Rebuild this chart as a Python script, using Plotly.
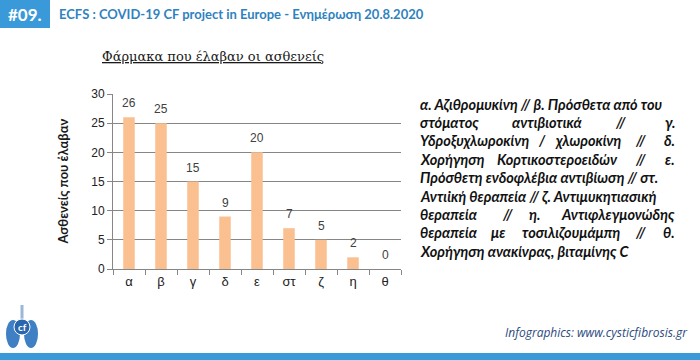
import plotly.graph_objects as go

categories = ["α", "β", "γ", "δ", "ε", "στ", "ζ", "η", "θ"]
patients = [26, 25, 15, 9, 20, 7, 5, 2, 0]
y_ticks = [0, 5, 10, 15, 20, 25, 30]

chart_title = "<u>Φάρμακα που έλαβαν οι ασθενείς</u>"
y_title = "<b>Ασθενείς που έλαβαν</b>"
header_tag = "#09."
header_title = "ECFS : COVID-19 CF project in Europe - Ενημέρωση 20.8.2020"
footer_text = "Infographics: www.cysticfibrosis.gr"

# legend text, line by line (justified block in the original)
legend_lines = [
    "α. Αζιθρομυκίνη // β. Πρόσθετα από του",
    "στόματος αντιβιοτικά // γ.",
    "Υδροξυχλωροκίνη / χλωροκίνη // δ.",
    "Χορήγηση Κορτικοστεροειδών // ε.",
    "Πρόσθετη ενδοφλέβια αντιβίωση // στ.",
    "Αντιϊκή θεραπεία // ζ. Αντιμυκητιασική",
    "θεραπεία // η. Αντιφλεγμονώδης",
    "θεραπεία με τοσιλιζουμάμπη // θ.",
    "Χορήγηση ανακίνρας, βιταμίνης C",
]

# layout: word extents (pixels) for the widely justified lines; None = one text run
word_extents = [
    None,
    [(418, 475), (510, 583), (613, 628), (663, 677)],
    [(418, 528), (538, 545), (553, 622), (632, 648), (660, 677)],
    [(418, 478), (495, 620), (632, 648), (663, 677)],
    None,
    None,
    [(418, 480), (498, 517), (527, 542), (560, 677)],
    [(418, 480), (490, 507), (518, 623), (632, 648), (662, 677)],
    None,
]

W, H = 700, 360
L, R, T, B = 113, 401, 94, 269


def px(x):
    return (x - L) / (R - L)


def py(y):
    return (B - y) / (B - T)


fig = go.Figure()
fig.add_trace(go.Bar(
    x=categories, y=patients, width=0.36,
    marker=dict(color="#fac090", line=dict(width=0)),
    hoverinfo="x+y",
))

annotations = []
for c, v in zip(categories, patients):
    annotations.append(dict(x=c, y=v, xref="x", yref="y", text=str(v),
                            showarrow=False, yshift=14,
                            font=dict(family="Liberation Sans", size=12, color="#404040")))

# chart title
annotations.append(dict(x=px(213), y=py(57), xref="paper", yref="paper", text=chart_title,
                        showarrow=False, xanchor="center", yanchor="middle",
                        font=dict(family="DejaVu Serif", size=13, color="#1a1a1a")))
# y-axis title
annotations.append(dict(x=px(62), y=0.5, xref="paper", yref="paper", text=y_title,
                        showarrow=False, textangle=-90, xanchor="center", yanchor="middle",
                        font=dict(family="Lato", size=13, color="#1a1a1a")))

LEG_FONT = dict(family="Lato", size=14.5, color="#111111")
line_y0, line_dy = 104, 18.4
for i, line in enumerate(legend_lines):
    yy = line_y0 + i * line_dy
    ext = word_extents[i]
    if ext is None:
        annotations.append(dict(x=px(418), y=py(yy), xref="paper", yref="paper",
                                text="<b><i>" + line + "</i></b>", showarrow=False,
                                xanchor="left", yanchor="middle", font=LEG_FONT))
        continue
    words = line.split(" ")
    n = len(words)
    for j, (w, (x0, x1)) in enumerate(zip(words, ext)):
        if j == 0:
            xx, anc = x0, "left"
        elif j == n - 1:
            xx, anc = x1, "right"
        else:
            xx, anc = (x0 + x1) / 2, "center"
        annotations.append(dict(x=px(xx), y=py(yy), xref="paper", yref="paper",
                                text="<b><i>" + w + "</i></b>", showarrow=False,
                                xanchor=anc, yanchor="middle", font=LEG_FONT))

# header
annotations.append(dict(x=px(25), y=py(14), xref="paper", yref="paper", text="<b>" + header_tag + "</b>",
                        showarrow=False, xanchor="center", yanchor="middle",
                        font=dict(family="Lato", size=17, color="white")))
annotations.append(dict(x=px(57), y=py(14), xref="paper", yref="paper", text="<b>" + header_title + "</b>",
                        showarrow=False, xanchor="left", yanchor="middle",
                        font=dict(family="Lato", size=13, color="#2f82c0")))
# footer
annotations.append(dict(x=px(690), y=py(332), xref="paper", yref="paper", text="<i>" + footer_text + "</i>",
                        showarrow=False, xanchor="right", yanchor="middle",
                        font=dict(family="Open Sans", size=12, color="#2c4a80")))
# logo text
annotations.append(dict(x=px(22), y=py(327), xref="paper", yref="paper", text="<b>cf</b>",
                        showarrow=False, xanchor="center", yanchor="middle",
                        font=dict(family="Lato", size=10, color="white")))

shapes = [
    dict(type="rect", xref="paper", yref="paper", x0=px(0), x1=px(50), y0=py(0), y1=py(28),
         fillcolor="#3a9ad9", line=dict(width=0), layer="below"),
    dict(type="rect", xref="paper", yref="paper", x0=px(0), x1=px(700), y0=py(353), y1=py(360),
         fillcolor="#3a9ad9", line=dict(width=0), layer="below"),
    # simple logo: lungs + circle
    dict(type="circle", xref="paper", yref="paper", x0=px(6), x1=px(20), y0=py(320), y1=py(348),
         fillcolor="#3f7fc4", line=dict(width=0)),
    dict(type="circle", xref="paper", yref="paper", x0=px(24), x1=px(38), y0=py(320), y1=py(348),
         fillcolor="#3f7fc4", line=dict(width=0)),
    dict(type="rect", xref="paper", yref="paper", x0=px(20.5), x1=px(23.5), y0=py(305), y1=py(320),
         fillcolor="#9ab6d8", line=dict(width=0)),
    dict(type="circle", xref="paper", yref="paper", x0=px(14), x1=px(30), y0=py(319), y1=py(335),
         fillcolor="#2a66ad", line=dict(color="white", width=1)),
]

fig.update_layout(
    width=W, height=H,
    margin=dict(l=L, r=W - R, t=T, b=H - B),
    paper_bgcolor="white", plot_bgcolor="white",
    showlegend=False,
    annotations=annotations,
    shapes=shapes,
    xaxis=dict(
        type="category", showline=True, linecolor="#868686", linewidth=1,
        ticks="outside", tickson="boundaries", ticklen=5, tickcolor="#868686",
        showgrid=False, tickfont=dict(family="Liberation Sans", size=13, color="#222222"),
    ),
    yaxis=dict(
        range=[0, 30], tickvals=y_ticks, showline=True, linecolor="#868686", linewidth=1,
        ticks="outside", ticklen=5, tickcolor="#868686",
        showgrid=True, gridcolor="#868686", gridwidth=1, zeroline=False,
        tickfont=dict(family="Liberation Sans", size=12, color="#222222"),
    ),
)

fig.write_html("out.html", config={"displayModeBar": False},
               post_script="document.body.style.margin='0';")
